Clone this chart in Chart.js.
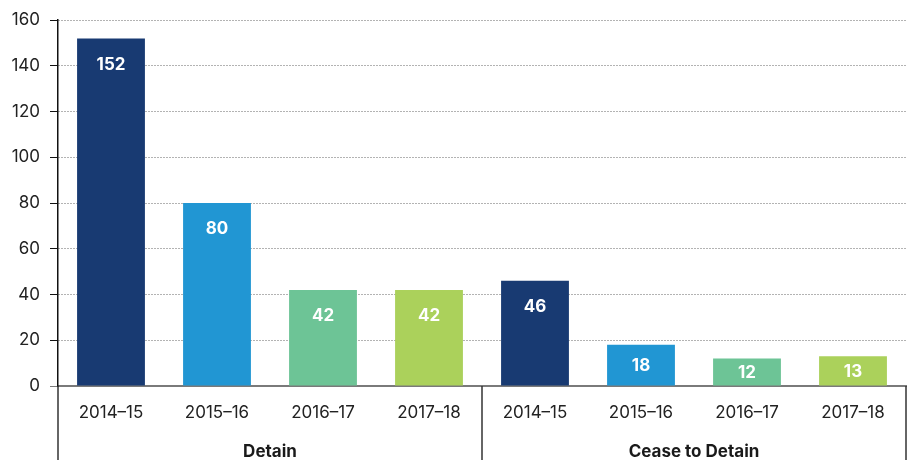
<!DOCTYPE html>
<html>
<head>
<meta charset="utf-8">
<script src="https://cdn.jsdelivr.net/npm/chart.js@4.4.1/dist/chart.umd.min.js"></script>
<style>
  html, body { margin: 0; padding: 0; background: #fff; }
  .wrap { width: 922px; height: 460px; position: relative; }
</style>
</head>
<body>
<div class="wrap"><canvas id="chart"></canvas></div>
<script>
const years = ['2014–15', '2015–16', '2016–17', '2017–18'];
const groups = ['Detain', 'Cease to Detain'];
const detain = [152, 80, 42, 42];
const ceaseToDetain = [46, 18, 12, 13];
const yearColors = ['#183A72', '#2196D3', '#6DC496', '#ABD15B'];
const yTicks = [0, 20, 40, 60, 80, 100, 120, 140, 160];

const FONT = "Inter, 'Noto Sans', sans-serif";

// one bar per year per group
const labels = groups.flatMap(() => years);
const values = detain.concat(ceaseToDetain);
const colors = groups.flatMap(() => yearColors);

// white value labels inside the bars
const valueLabels = {
  id: 'valueLabels',
  afterDatasetsDraw(chart) {
    const ctx = chart.ctx;
    const meta = chart.getDatasetMeta(0);
    ctx.save();
    ctx.fillStyle = '#fff';
    ctx.font = "bold 17px " + FONT;
    ctx.textAlign = 'center';
    ctx.textBaseline = 'middle';
    meta.data.forEach((bar, i) => {
      const top = bar.y, bottom = bar.base;
      const y = Math.min(top + 26, (top + bottom) / 2 + 1);
      ctx.fillText(values[i], bar.x, y);
    });
    ctx.restore();
  }
};

// group boxes and group names under the year labels
const groupAxis = {
  id: 'groupAxis',
  afterDraw(chart) {
    const ctx = chart.ctx;
    const x = chart.scales.x;
    const area = chart.chartArea;
    const per = years.length;
    const bottom = chart.height;
    ctx.save();
    ctx.strokeStyle = '#333';
    ctx.lineWidth = 1.5;
    for (let g = 0; g <= groups.length; g++) {
      let px;
      if (g === 0) px = area.left;
      else if (g === groups.length) px = area.right;
      else px = (x.getPixelForTick(g * per - 1) + x.getPixelForTick(g * per)) / 2;
      ctx.beginPath();
      ctx.moveTo(px, area.bottom);
      ctx.lineTo(px, bottom);
      ctx.stroke();
    }
    ctx.fillStyle = '#1a1a1a';
    ctx.font = "bold 17px " + FONT;
    ctx.textAlign = 'center';
    ctx.textBaseline = 'middle';
    groups.forEach((name, g) => {
      const cx = (x.getPixelForTick(g * per) + x.getPixelForTick(g * per + per - 1)) / 2;
      ctx.fillText(name, cx, area.bottom + 66);
    });
    ctx.restore();
  }
};

new Chart(document.getElementById('chart'), {
  type: 'bar',
  data: {
    labels: labels,
    datasets: [{
      data: values,
      backgroundColor: colors,
      borderWidth: 0,
      barPercentage: 0.8,
      categoryPercentage: 0.8
    }]
  },
  options: {
    responsive: true,
    maintainAspectRatio: false,
    animation: false,
    layout: { padding: { top: 10, right: 16, left: 0, bottom: 0 } },
    plugins: { legend: { display: false }, tooltip: { enabled: false } },
    scales: {
      x: {
        grid: { display: false, drawTicks: false },
        border: { display: true, color: '#7a7a7a', width: 2 },
        ticks: { color: '#222', font: { family: FONT, size: 17 }, padding: 17, maxRotation: 0, autoSkip: false },
        afterFit: s => { s.height = 74; }
      },
      y: {
        min: 0,
        max: 160,
        afterBuildTicks: s => { s.ticks = yTicks.map(v => ({ value: v })); },
        grid: {
          color: c => c.tick && c.tick.value === 0 ? 'rgba(0,0,0,0)' : '#666',
          tickColor: c => c.tick && c.tick.value === 0 ? '#7a7a7a' : '#111',
          tickLength: 8,
          tickBorderDash: [],
          lineWidth: 1
        },
        border: { display: true, color: '#111', width: 1.5, dash: [1, 2] },
        ticks: { color: '#222', font: { family: FONT, size: 17 }, padding: 10 },
        afterFit: s => { s.width = 58; }
      }
    }
  },
  plugins: [valueLabels, groupAxis]
});
</script>
</body>
</html>
